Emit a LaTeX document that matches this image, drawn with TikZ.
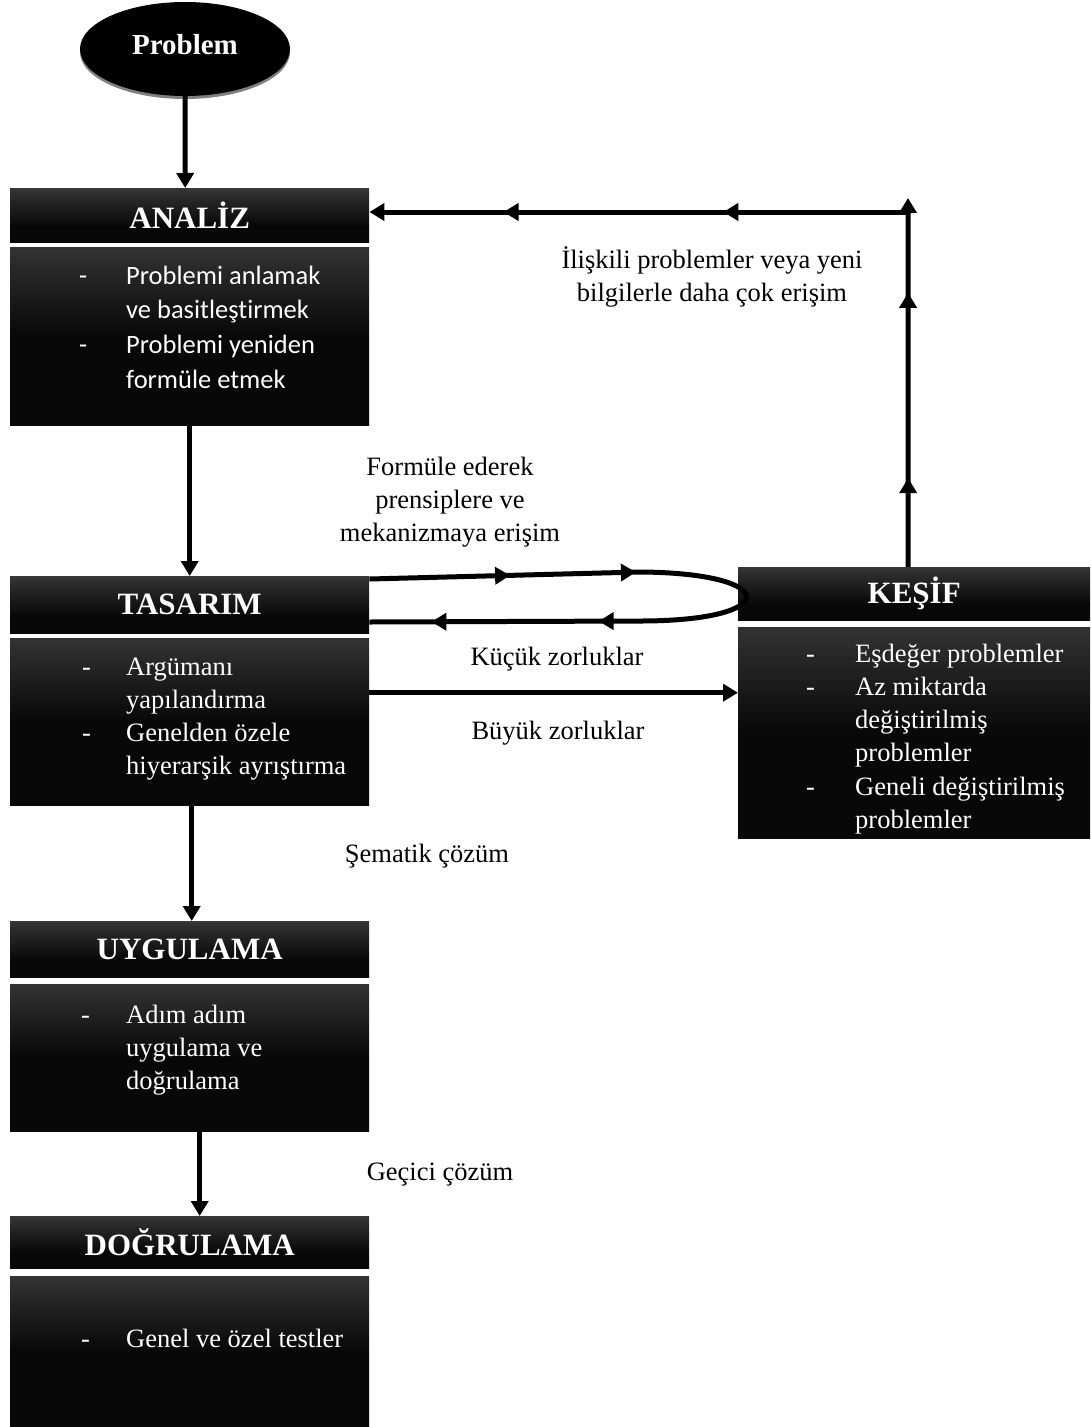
\documentclass[tikz,border=0pt]{standalone}
\usepackage{fontspec}
\setmainfont{Liberation Serif}
\newfontfamily\calib[Ligatures={NoCommon}]{Carlito}
\usetikzlibrary{shapes.geometric,arrows.meta,decorations.markings,calc}
\pgfdeclareverticalshading{hdrshade}{100bp}{color(0bp)=(black!97); color(40bp)=(black!97); color(70bp)=(black!82); color(100bp)=(black!60)}
\pgfdeclareverticalshading{bodyshade}{100bp}{color(0bp)=(black!97); color(50bp)=(black!97); color(75bp)=(black!80); color(100bp)=(black!60)}
\tikzset{
  hdr/.style={rectangle, shading=hdrshade, minimum width=359pt, inner sep=0pt, anchor=north west,
    text=white, font=\fontsize{31}{36}\selectfont\bfseries},
  body/.style={rectangle, shading=bodyshade, minimum width=359pt, inner sep=0pt, anchor=north west},
  btxt/.style={anchor=base west, inner sep=0pt, text=white, font=\fontsize{26.5}{33.3}\selectfont},
  lbl/.style={anchor=base, inner sep=0pt, font=\fontsize{26.5}{33.2}\selectfont},
  tip/.tip={Triangle[width=17pt,length=15pt]},
  ln/.style={line width=5pt},
  arr/.style={line width=5pt, -tip},
  mk/.style={postaction={decorate, decoration={markings, mark=at position #1 with {\arrow{tip}}}}}
}
\begin{document}
\begin{tikzpicture}[x=1pt,y=-1pt]
\useasboundingbox (0,0) rectangle (1090,1427);

% Problem ellipse
\fill[black!50] (185,52) ellipse [x radius=105pt, y radius=47pt];
\node[ellipse, fill=black, minimum width=210pt, minimum height=94pt, inner sep=0pt, text=white,
  font=\fontsize{29}{34}\selectfont\bfseries] (prob) at (185,49) {\raisebox{9pt}{Problem}};

% ANALIZ
\node[hdr, minimum height=54pt] (anH) at (10,188) {ANAL\.IZ};
\node[body, minimum height=178pt] (anB) at (10,247) {};
\node[btxt, font=\calib\fontsize{26.5}{34.7}\selectfont] (anT) at (79,284)
  {\begin{tabular}[t]{@{}p{47pt}@{}l@{}}-&Problemi anlamak\\ &ve basitleştirmek\\ -&Problemi yeniden\\ &formüle etmek\end{tabular}};

% TASARIM
\node[hdr, minimum height=57pt] (taH) at (10,576) {TASARIM};
\node[body, minimum height=167pt] (taB) at (10,638) {};
\node[btxt] (taT) at (82,675)
  {\begin{tabular}[t]{@{}p{44pt}@{}l@{}}-&Argümanı\\ &yapılandırma\\ -&Genelden özele\\ &hiyerarşik ayrıştırma\end{tabular}};

% UYGULAMA
\node[hdr, minimum height=56pt] (uyH) at (10,921) {UYGULAMA};
\node[body, minimum height=147pt] (uyB) at (10,984) {};
\node[btxt] (uyT) at (81,1023)
  {\begin{tabular}[t]{@{}p{45pt}@{}l@{}}-&Adım adım\\ &uygulama ve\\ &doğrulama\end{tabular}};

% DOGRULAMA
\node[hdr, minimum height=52pt] (doH) at (10,1216) {DOĞRULAMA};
\node[body, minimum height=151pt] (doB) at (10,1276) {};
\node[btxt] (doT) at (81,1347)
  {\begin{tabular}[t]{@{}p{45pt}@{}l@{}}-&Genel ve özel testler\end{tabular}};

% KESIF
\node[hdr, minimum width=352pt, minimum height=53pt] (keH) at (738,567) {\raisebox{-3pt}{KEŞ\.IF}};
\node[body, minimum width=352pt, minimum height=211pt] (keB) at (738,627) {};
\node[btxt] (keT) at (806,662)
  {\begin{tabular}[t]{@{}p{49pt}@{}l@{}}-&Eşdeğer problemler\\ -&Az miktarda\\ &değiştirilmiş\\ &problemler\\ -&Geneli değiştirilmiş\\ &problemler\end{tabular}};

% labels
\node[lbl] (l1) at (712,268) {\begin{tabular}[t]{@{}c@{}}İlişkili problemler veya yeni\\ bilgilerle daha çok erişim\end{tabular}};
\node[lbl] (l2) at (450,475) {\begin{tabular}[t]{@{}c@{}}Formüle ederek\\ prensiplere ve\\ mekanizmaya erişim\end{tabular}};
\node[lbl] (l3) at (557,665) {Küçük zorluklar};
\node[lbl] (l4) at (558,739) {Büyük zorluklar};
\node[lbl] (l5) at (427,862) {Şematik çözüm};
\node[lbl] (l6) at (440,1180) {Geçici çözüm};

% vertical flow
\draw[arr] (prob.south) -- ([xshift=-4.5pt]anH.north);
\draw[arr] (anB.south) -- (taH.north);
\draw[arr] ([xshift=2pt]taB.south) -- ([xshift=2pt]uyH.north);
\draw[arr] ([xshift=10pt]uyB.south) -- ([xshift=10pt]doH.north);

% feedback from KESIF to ANALIZ
\coordinate (topR) at (908,198);
\coordinate (cornerR) at (908,212);
\draw[arr, mk=0.241, mk=0.743] ([xshift=-6pt]keH.north) -- (topR);
\draw[arr, mk=0.343, mk=0.751] (cornerR) -- (cornerR -| anH.east);

% loop between TASARIM and KESIF
\coordinate (s1) at ([yshift=-3pt]taH.north east);
\coordinate (s2) at ([yshift=-46pt]taH.north east);
\coordinate (t1) at (640,572);
\coordinate (b1) at (640,621);
\draw[ln, mk=0.52, mk=0.985] (s1) -- (t1);
\draw[ln] (t1) .. controls (782,573) and (782,621) .. (b1);
\draw[ln, mk=0.153, mk=0.771] (b1) -- (s2);

% straight arrow to KESIF
\coordinate (k1) at ([yshift=29pt]taB.east);
\draw[arr] (k1) -- (k1 -| keB.west);
\end{tikzpicture}
\end{document}
